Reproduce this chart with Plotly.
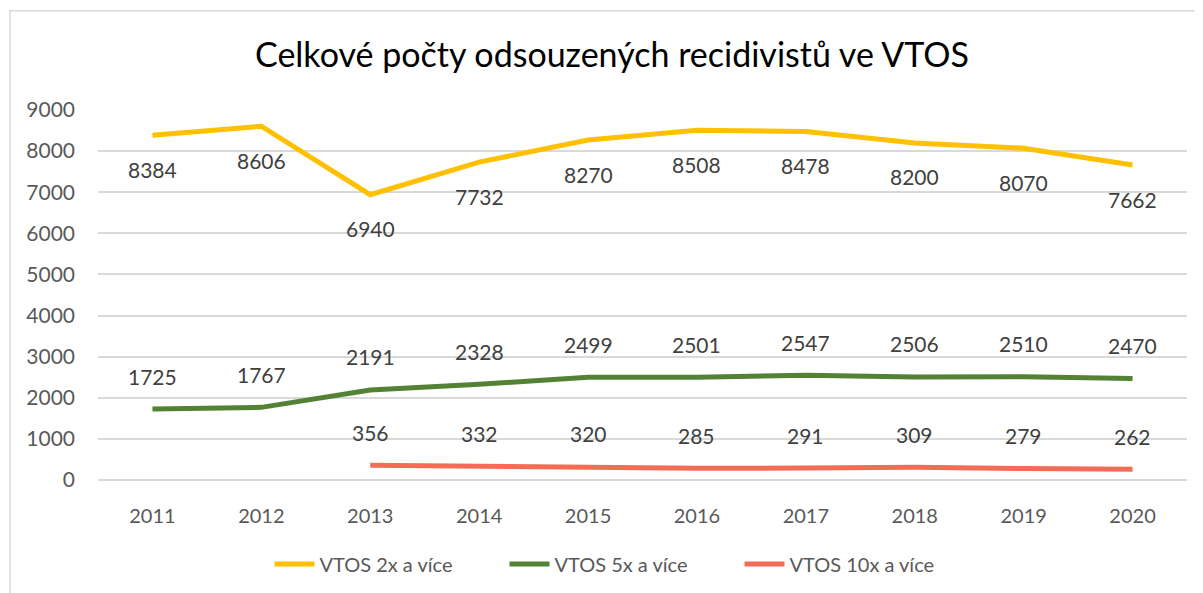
import plotly.graph_objects as go

years = [2011, 2012, 2013, 2014, 2015, 2016, 2017, 2018, 2019, 2020]
vtos_2x = [8384, 8606, 6940, 7732, 8270, 8508, 8478, 8200, 8070, 7662]
vtos_5x = [1725, 1767, 2191, 2328, 2499, 2501, 2547, 2506, 2510, 2470]
vtos_10x = [None, None, 356, 332, 320, 285, 291, 309, 279, 262]

series = [
    ("VTOS 2x a více", vtos_2x, "#FFC000", -34),
    ("VTOS 5x a více", vtos_5x, "#548235", 33),
    ("VTOS 10x a více", vtos_10x, "#F36C55", 33),
]

FONT = "Lato, Calibri, sans-serif"

fig = go.Figure()
annotations = []
for name, vals, color, shift in series:
    fig.add_trace(go.Scatter(
        x=years, y=vals, name=name, mode="lines",
        line=dict(color=color, width=5),
        connectgaps=False,
    ))
    for yr, v in zip(years, vals):
        if v is None:
            continue
        annotations.append(dict(
            x=yr, y=v, text=str(v), showarrow=False, yshift=shift,
            font=dict(size=21, color="#404040", family=FONT),
        ))

# page body has an 8px margin, so work in page pixels minus 8
OFF = 8
W, H = 1203 - OFF, 593 - OFF
L, T = 98 - OFF, 109.5 - OFF
R = W - (1187 - OFF)
B = H - (480 - OFF)
pw, ph = W - L - R, H - T - B

def px_x(p):
    return (p - OFF - L) / pw

def px_y(p):
    return (H - B - (p - OFF)) / ph

fig.update_layout(
    width=W, height=H,
    margin=dict(l=L, r=R, t=T, b=B, autoexpand=False),
    paper_bgcolor="white", plot_bgcolor="white",
    font=dict(family=FONT, color="#595959"),
    title=dict(
        text="Celkové počty odsouzených recidivistů ve VTOS",
        x=(612 - OFF) / W, xref="container", xanchor="center",
        y=1 - (55 - OFF) / H, yref="container", yanchor="middle",
        font=dict(size=34, color="#000000", family=FONT),
    ),
    xaxis=dict(
        range=[2010.5, 2020.5], dtick=1, tick0=2011,
        showgrid=False, zeroline=False,
        showline=False, ticks="",
        tickfont=dict(size=20, color="#595959"),
        ticklabelstandoff=22,
    ),
    yaxis=dict(
        range=[0, 9000], dtick=1000, showgrid=True,
        gridcolor="#D9D9D9", gridwidth=1.5, zeroline=True,
        zerolinecolor="#D9D9D9", zerolinewidth=1.5,
        tickfont=dict(size=21, color="#595959"),
        ticklabelstandoff=22,
    ),
    legend=dict(
        orientation="h", x=px_x(622), xanchor="center",
        y=px_y(564), yanchor="middle",
        font=dict(size=20, color="#595959"),
        entrywidth=180, entrywidthmode="pixels",
        itemwidth=40, traceorder="normal",
    ),
    annotations=annotations,
    shapes=[dict(
        type="rect", xref="paper", yref="paper",
        x0=px_x(10), x1=px_x(1260), y0=px_y(650), y1=px_y(10),
        line=dict(color="#D9D9D9", width=1.5), layer="below",
    )],
    showlegend=True,
)

fig.write_html("out.html")
